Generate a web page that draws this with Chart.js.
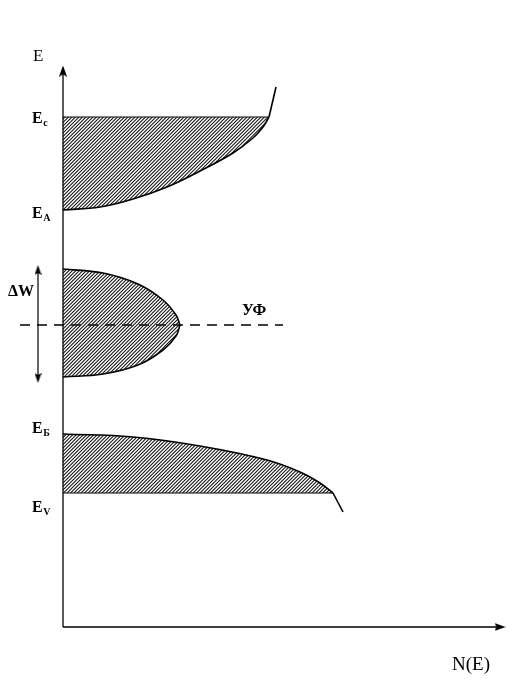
<!DOCTYPE html>
<html>
<head>
<meta charset="utf-8">
<script src="https://cdn.jsdelivr.net/npm/chart.js@4"></script>
<style>
  html, body { margin: 0; padding: 0; background: #fff; }
  #wrap { width: 528px; height: 686px; position: relative; }
</style>
</head>
<body>
<div id="wrap"><canvas id="bands"></canvas></div>
<script>
// x = N(E), y = E (units, origin at the axes corner)

// зона проводимости: край E_A -> E_c
var cbEdgeX = [0, 37, 70, 104, 137, 170, 190, 200, 206];
var cbEdgeY = [417, 420, 428, 440, 456, 474, 489, 500, 510];
var cbTailX = [206, 213];
var cbTailY = [510, 540];

// примесная зона (верхняя и нижняя половины)
var impTopX = [0, 40, 75, 100, 113, 117];
var impTopY = [358, 354, 343, 327, 312, 302];
var impBotX = [0, 40, 75, 100, 113, 117];
var impBotY = [250, 253, 262, 277, 291, 302];

// валентная зона: край E_Б -> E_V
var vbEdgeX = [0, 70, 137, 204, 237, 257, 270];
var vbEdgeY = [193, 190, 181, 167, 155, 144, 134];
var vbTailX = [270, 280];
var vbTailY = [134, 115];

// уровни
var levelEc = 510;
var levelEA = 417;
var levelEb = 193;
var levelEv = 134;
var levelUF = 302;
var levelW = [249, 357];      // ΔW: низ, верх
var ufLineX = [-43, 220];

// оси
var axisYTop = 556;
var axisXEnd = 437;

function pts(xs, ys) {
  return xs.map(function(x, i) { return { x: x, y: ys[i] }; });
}

function hatch() {
  var c = document.createElement('canvas');
  c.width = 7; c.height = 7;
  var g = c.getContext('2d');
  g.strokeStyle = '#1a1a1a';
  g.lineWidth = 1.1;
  g.beginPath();
  [0, 3.5, 7, 10.5, 14].forEach(function(k) {
    g.moveTo(k + 1, -1); g.lineTo(k - 8, 8);
  });
  g.stroke();
  return g.createPattern(c, 'repeat');
}

function arrowHead(w, h) {
  var c = document.createElement('canvas');
  c.width = w; c.height = h;
  var g = c.getContext('2d');
  g.fillStyle = '#000';
  g.beginPath();
  g.moveTo(w / 2, 0);
  g.lineTo(w, h);
  g.lineTo(w / 2, h - 2);
  g.lineTo(0, h);
  g.closePath();
  g.fill();
  return c;
}

var pattern = hatch();
var bigHead = arrowHead(8, 11);
var smallHead = arrowHead(7, 10);

function curve(data, opts) {
  var ds = {
    data: data,
    showLine: true,
    borderColor: '#000',
    borderWidth: 1.6,
    pointRadius: 0,
    fill: false,
    tension: 0.4
  };
  for (var k in opts) ds[k] = opts[k];
  return ds;
}

var labelsPlugin = {
  id: 'bandLabels',
  afterDatasetsDraw: function(chart) {
    var ctx = chart.ctx;
    var xs = chart.scales.x, ys = chart.scales.y;
    var x0 = xs.getPixelForValue(0);
    ctx.save();
    ctx.fillStyle = '#000';
    ctx.textAlign = 'left';
    ctx.textBaseline = 'alphabetic';

    function sub(main, s, py) {
      ctx.font = 'bold 16px "Liberation Serif"';
      ctx.fillText(main, x0 - 31, py);
      var w = ctx.measureText(main).width;
      ctx.font = 'bold 10px "Liberation Serif"';
      ctx.fillText(s, x0 - 31 + w + 0.5, py + 3);
    }
    sub('E', 'c', ys.getPixelForValue(levelEc) + 6);
    sub('E', 'A', ys.getPixelForValue(levelEA) + 8);
    sub('E', 'Б', ys.getPixelForValue(levelEb) - 1);
    sub('E', 'V', ys.getPixelForValue(levelEv) + 19);

    ctx.font = '17px "Liberation Serif"';
    ctx.fillText('E', x0 - 30, ys.getPixelForValue(axisYTop) - 10);

    ctx.font = 'bold 16px "Liberation Serif"';
    ctx.fillText('ΔW', x0 - 55, ys.getPixelForValue(levelW[1]) + 26);

    ctx.font = 'bold 16px "Liberation Serif"';
    ctx.fillText('УФ', xs.getPixelForValue(179), ys.getPixelForValue(levelUF) - 10);

    ctx.font = '19px "Liberation Serif"';
    ctx.fillText('N(E)', xs.getPixelForValue(axisXEnd) - 48, ys.getPixelForValue(0) + 43);
    ctx.restore();
  }
};

new Chart(document.getElementById('bands'), {
  type: 'scatter',
  data: {
    datasets: [
      // оси
      curve(pts([0, 0], [0, axisYTop]), {
        borderWidth: 1.3, tension: 0,
        pointRadius: [0, 5], pointStyle: bigHead, pointRotation: 0
      }),
      curve(pts([0, axisXEnd], [0, 0]), {
        borderWidth: 1.3, tension: 0,
        pointRadius: [0, 5], pointStyle: bigHead, pointRotation: 90
      }),
      // зона проводимости
      curve(pts(cbEdgeX, cbEdgeY), { fill: { value: levelEc }, backgroundColor: pattern }),
      curve(pts(cbTailX, cbTailY), { tension: 0 }),
      curve(pts([0, cbEdgeX[cbEdgeX.length - 1]], [levelEc, levelEc]), { borderWidth: 1.2, tension: 0 }),
      // примесная зона
      curve(pts(impTopX, impTopY), { fill: '+1', backgroundColor: pattern }),
      curve(pts(impBotX, impBotY), {}),
      // валентная зона
      curve(pts(vbEdgeX, vbEdgeY), { fill: { value: levelEv }, backgroundColor: pattern }),
      curve(pts(vbTailX, vbTailY), { tension: 0 }),
      curve(pts([0, vbEdgeX[vbEdgeX.length - 1]], [levelEv, levelEv]), { borderWidth: 1.2, tension: 0 }),
      // уровень Ферми (УФ)
      curve(pts(ufLineX, [levelUF, levelUF]), { borderWidth: 1.3, borderDash: [10, 7], tension: 0 }),
      // ΔW
      curve(pts([-25, -25], levelW), {
        borderWidth: 1.2, tension: 0,
        pointRadius: 4, pointStyle: smallHead, pointRotation: [180, 0]
      })
    ]
  },
  options: {
    responsive: true,
    maintainAspectRatio: false,
    animation: false,
    layout: { padding: 0, autoPadding: false },
    plugins: {
      legend: { display: false },
      tooltip: { enabled: false }
    },
    scales: {
      x: { type: 'linear', min: -63, max: 465, display: false },
      y: { type: 'linear', min: -59, max: 627, display: false }
    }
  },
  plugins: [labelsPlugin]
});
</script>
</body>
</html>
